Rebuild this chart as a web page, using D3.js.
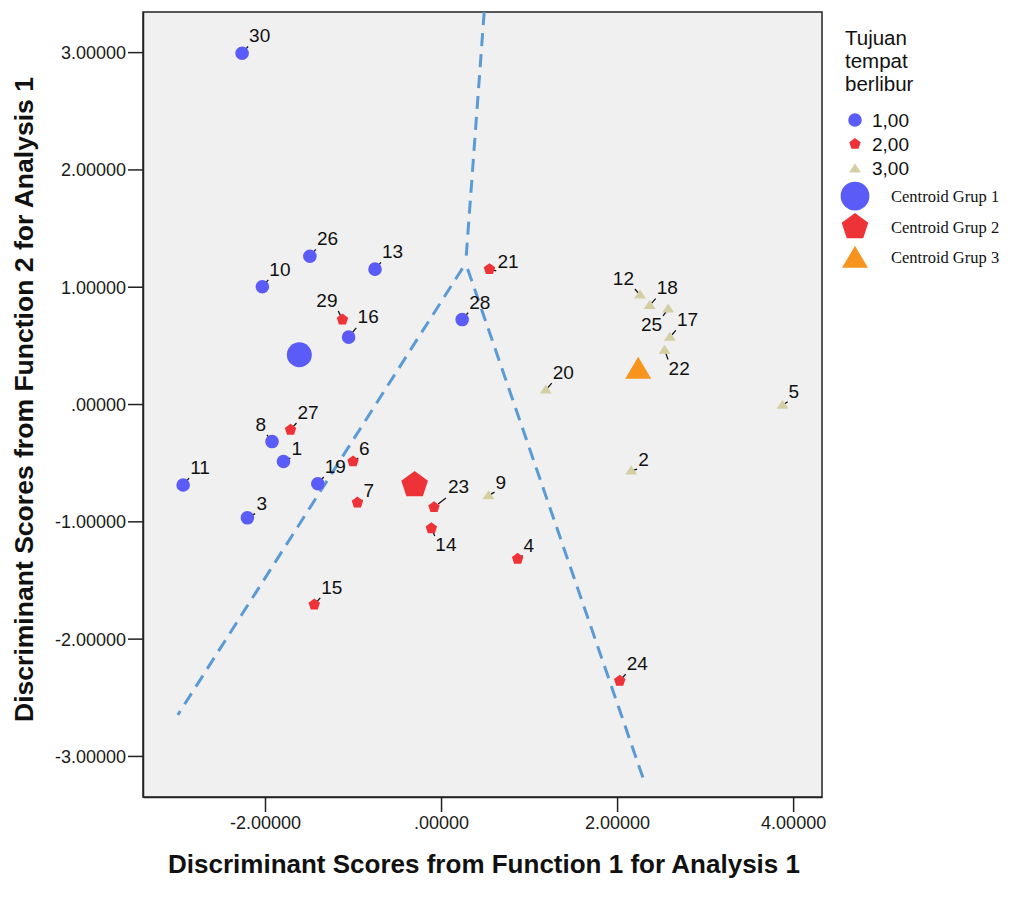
<!DOCTYPE html>
<html>
<head>
<meta charset="utf-8">
<script src="https://cdn.jsdelivr.net/npm/d3@7"></script>
<style>
  html, body { margin: 0; padding: 0; background: #ffffff; }
  svg { display: block; }
</style>
</head>
<body>
<svg id="chart" width="1022" height="898"></svg>
<script>
// ---------------- DATA ----------------
const caseIds   = [1,2,3,4,5,6,7,8,9,10,11,12,13,14,15,16,17,18,19,20,21,22,23,24,25,26,27,28,29,30];
const groups    = [1,3,1,2,3,2,2,1,3,1,1,3,1,2,2,1,3,3,1,3,2,3,2,2,3,1,2,1,2,1];
const function1 = [-1.79,2.16,-2.20,0.87,3.88,-1.00,-0.95,-1.92,0.54,-2.03,-2.93,2.26,-0.75,-0.11,-1.44,-1.05,2.60,2.37,-1.40,1.19,0.55,2.54,-0.08,2.03,2.58,-1.49,-1.71,0.24,-1.12,-2.26];
const function2 = [-0.49,-0.57,-0.97,-1.32,-0.01,-0.49,-0.84,-0.32,-0.78,1.00,-0.69,0.93,1.15,-1.06,-1.71,0.57,0.57,0.84,-0.68,0.12,1.15,0.46,-0.88,-2.36,0.81,1.26,-0.22,0.72,0.72,2.99];

const centroidGroups = [1, 2, 3];
const centroidF1     = [-1.61, -0.30, 2.24];
const centroidF2     = [0.42, -0.69, 0.29];

// territorial boundary lines (data coordinates)
const boundaryTop   = [[0.49, 3.34], [0.28, 1.20]];
const boundaryLeft  = [[0.28, 1.20], [-2.99, -2.65]];
const boundaryRight = [[0.28, 1.20], [2.30, -3.20]];

const xTicks = [-2, 0, 2, 4];
const yTicks = [-3, -2, -1, 0, 1, 2, 3];
const legendTitle = ["Tujuan", "tempat", "berlibur"];
const groupLabels = ["1,00", "2,00", "3,00"];
const centroidLabels = ["Centroid Grup 1", "Centroid Grup 2", "Centroid Grup 3"];
const xTitle = "Discriminant Scores from Function 1 for Analysis 1";
const yTitle = "Discriminant Scores from Function 2 for Analysis 1";

// ---------------- LAYOUT / STYLE ----------------
const plot = { left: 143, right: 822, top: 12, bottom: 797 };
const colors = { 1: "#5b5bf7", 2: "#ee3338", 3: "#d4cfa2" };
const centroidColors = { 1: "#5b5bf7", 2: "#ee3338", 3: "#f7941e" };
const sans = "'Liberation Sans', Arial, sans-serif";
// label placement per case: [dx, dy, anchor]
const labelPlace = {
  8: [-6, -11, "end"], 12: [-6, -10, "end"], 29: [-5, -13, "end"],
  25: [-6, 22, "end"], 14: [4, 23, "start"], 22: [4, 25, "start"],
  21: [8, -1, "start"], 23: [14, -14, "start"], 16: [9, -14, "start"],
  5: [6, -7, "start"], 1: [8, -7, "start"], 6: [6, -7, "start"], 7: [6, -6, "start"],
  3: [9, -8, "start"], 9: [7, -7, "start"], 4: [6, -7, "start"], 2: [7, -5, "start"]
};
const defaultPlace = [7, -11, "start"];

const x = d3.scaleLinear().domain([-3.386, 4.328]).range([plot.left, plot.right]);
const y = d3.scaleLinear().domain([-3.35, 3.342]).range([plot.bottom, plot.top]);

const svg = d3.select("#chart");

// plot background
svg.append("rect")
  .attr("x", plot.left).attr("y", plot.top)
  .attr("width", plot.right - plot.left).attr("height", plot.bottom - plot.top)
  .attr("fill", "#f0f0f0").attr("stroke", "#222").attr("stroke-width", 1.5);

// axes
const fmt = d => d === 0 ? ".00000" : d3.format(".5f")(d).replace("−", "-");
const xAxis = d3.axisBottom(x).tickValues(xTicks).tickSize(15).tickSizeOuter(0).tickFormat(fmt);
const yAxis = d3.axisLeft(y).tickValues(yTicks).tickSize(15).tickSizeOuter(0).tickFormat(fmt);

const gx = svg.append("g").attr("transform", `translate(0,${plot.bottom})`).call(xAxis);
const gy = svg.append("g").attr("transform", `translate(${plot.left},0)`).call(yAxis);
[gx, gy].forEach(g => {
  g.select(".domain").attr("stroke", "#222").attr("stroke-width", 1.5);
  g.selectAll(".tick line").attr("stroke", "#222").attr("stroke-width", 1.5);
  g.selectAll(".tick text").attr("fill", "#1a1a1a")
    .style("font-family", sans).style("font-size", "18px");
});
gx.selectAll(".tick text").attr("dy", null).attr("y", 32);
gy.selectAll(".tick text").attr("x", -17).attr("dy", "0.36em");

// axis titles
svg.append("text")
  .attr("x", 484).attr("y", 873).attr("text-anchor", "middle")
  .attr("textLength", 632).attr("lengthAdjust", "spacingAndGlyphs")
  .style("font-family", "'Liberation Sans Narrow', 'Arial Narrow', 'Liberation Sans', Arial, sans-serif")
  .style("font-weight", "bold").style("font-size", "25px").attr("fill", "#111")
  .text(xTitle);
svg.append("text")
  .attr("transform", "translate(33,399.5) rotate(-90)").attr("text-anchor", "middle")
  .attr("textLength", 645).attr("lengthAdjust", "spacingAndGlyphs")
  .style("font-family", "'Liberation Sans Narrow', 'Arial Narrow', 'Liberation Sans', Arial, sans-serif")
  .style("font-weight", "bold").style("font-size", "25px").attr("fill", "#111")
  .text(yTitle);

// boundary lines
const line = d3.line().x(d => x(d[0])).y(d => y(d[1]));
[boundaryTop, boundaryLeft, boundaryRight].forEach((pts, i) => {
  svg.append("path").attr("d", line(pts))
    .attr("fill", "none").attr("stroke", "#5b9bd5").attr("stroke-width", 3)
    .attr("stroke-dasharray", "13,8").attr("stroke-dashoffset", i === 0 ? 0 : -6);
});

// shape helpers
function pentagonPath(r) {
  const pts = d3.range(5).map(k => {
    const a = -Math.PI / 2 + k * 2 * Math.PI / 5;
    return [r * Math.cos(a), r * Math.sin(a)];
  });
  return "M" + pts.map(p => p.join(",")).join("L") + "Z";
}
function trianglePath(w, h) {
  return `M0,${-h * 0.6}L${w / 2},${h * 0.4}L${-w / 2},${h * 0.4}Z`;
}
function circlePath(r) {
  return d3.symbol().type(d3.symbolCircle).size(Math.PI * r * r)();
}
function shapeFor(group, big) {
  if (group === 1) return circlePath(big ? 12.5 : 6.8);
  if (group === 2) return pentagonPath(big ? 14 : 6);
  return big ? trianglePath(26, 22) : trianglePath(12, 9);
}

// cases
const cases = caseIds.map((id, i) => ({ id, g: groups[i], f1: function1[i], f2: function2[i] }));

const gCases = svg.append("g");
cases.forEach(d => {
  const px = x(d.f1), py = y(d.f2);
  const [dx, dy, anchor] = labelPlace[d.id] || defaultPlace;
  const cx = px + dx, cy = py + dy + (dy < 0 ? 3 : -14);
  gCases.append("line")
    .attr("x1", px + (cx - px) * 0.3).attr("y1", py + (cy - py) * 0.3)
    .attr("x2", px + (cx - px) * 0.85).attr("y2", py + (cy - py) * 0.85)
    .attr("stroke", "#111").attr("stroke-width", 1.3);
});
cases.forEach(d => {
  gCases.append("path").attr("d", shapeFor(d.g, false))
    .attr("transform", `translate(${x(d.f1)},${y(d.f2)})`)
    .attr("fill", colors[d.g]);
});
cases.forEach(d => {
  const [dx, dy, anchor] = labelPlace[d.id] || defaultPlace;
  gCases.append("text")
    .attr("x", x(d.f1) + dx).attr("y", y(d.f2) + dy).attr("text-anchor", anchor)
    .style("font-family", sans).style("font-size", "19px")
    .attr("fill", "#111").text(d.id);
});

// centroids
centroidGroups.forEach((g, i) => {
  svg.append("path").attr("d", shapeFor(g, true))
    .attr("transform", `translate(${x(centroidF1[i])},${y(centroidF2[i])})`)
    .attr("fill", centroidColors[g]);
});

// legend
const lg = svg.append("g");
legendTitle.forEach((t, i) => {
  lg.append("text").attr("x", 845).attr("y", 45 + i * 23)
    .style("font-family", sans).style("font-size", "20.5px")
    .attr("fill", "#111").text(t);
});
const smallRowY = [120, 144, 168];
groupLabels.forEach((t, i) => {
  const g = i + 1;
  lg.append("path").attr("d", shapeFor(g, false))
    .attr("transform", `translate(855,${smallRowY[i] + (g === 3 ? 1 : 0)})`)
    .attr("fill", colors[g]);
  lg.append("text").attr("x", 872).attr("y", smallRowY[i] + 7)
    .style("font-family", sans).style("font-size", "19px")
    .attr("fill", "#111").text(t);
});
const bigRowY = [196, 227, 257];
centroidLabels.forEach((t, i) => {
  const g = i + 1;
  lg.append("path").attr("d", shapeFor(g, true))
    .attr("transform", `translate(855,${bigRowY[i] + (g === 3 ? 2 : 0)}) scale(${g === 1 ? 1.15 : 1})`)
    .attr("fill", centroidColors[g]);
  lg.append("text").attr("x", 891).attr("y", bigRowY[i] + 6)
    .style("font-family", "'Liberation Serif', 'Times New Roman', serif").style("font-size", "16.5px")
    .attr("fill", "#111").text(t);
});
</script>
</body>
</html>
